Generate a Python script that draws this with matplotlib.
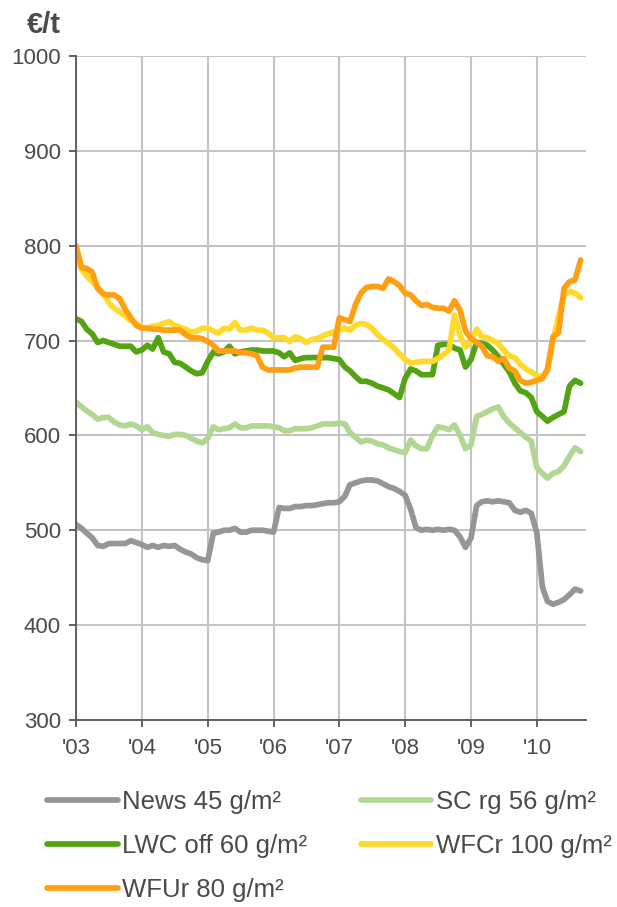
import matplotlib
matplotlib.use("Agg")
import matplotlib.pyplot as plt
import pandas as pd

# monthly paper prices, Jan 2003 .. Sep 2010 (EUR/t)
months = pd.date_range("2003-01-01", periods=93, freq="MS")

news = [506, 502, 497, 492, 484, 483, 486, 486, 486, 486, 489, 487,
        485, 482, 484, 482, 484, 483, 484, 480, 477, 475, 471, 469,
        468, 497, 498, 500, 500, 502, 498, 498, 500, 500, 500, 499,
        498, 524, 523, 523, 525, 525, 526, 526, 527, 528, 529, 529,
        530, 536, 548, 550, 552, 553, 553, 552, 549, 546, 544, 541,
        537, 522, 503, 500, 501, 500, 501, 500, 501, 500, 493, 482,
        492, 526, 530, 531, 530, 531, 530, 529, 521, 519, 521, 518,
        497, 440, 425, 422, 424, 427, 432, 438, 436]

sc = [635, 630, 626, 622, 617, 619, 619, 614, 611, 610, 612, 610,
      606, 609, 603, 601, 600, 599, 601, 601, 600, 597, 594, 592,
      597, 609, 606, 607, 608, 612, 608, 608, 610, 610, 610, 610,
      609, 608, 605, 605, 607, 607, 607, 608, 610, 612, 612, 612,
      613, 612, 603, 598, 593, 595, 594, 591, 590, 587, 585, 583,
      582, 595, 589, 586, 586, 600, 609, 608, 606, 611, 600, 586,
      590, 620, 622, 625, 628, 630, 620, 613, 608, 603, 598, 594,
      566, 560, 555, 560, 562, 568, 578, 587, 583]

lwc = [723, 720, 712, 707, 698, 700, 698, 696, 694, 694, 694, 688,
       690, 695, 691, 703, 688, 686, 677, 676, 672, 668, 665, 666,
       678, 688, 686, 688, 694, 686, 688, 689, 690, 690, 689, 689,
       689, 687, 683, 687, 679, 681, 682, 682, 682, 682, 682, 681,
       680, 672, 668, 662, 657, 657, 655, 652, 650, 648, 644, 640,
       660, 670, 668, 664, 664, 664, 695, 696, 696, 692, 690, 672,
       680, 698, 697, 695, 690, 683, 675, 667, 655, 647, 645, 640,
       625, 620, 615, 619, 622, 625, 652, 658, 655]

wfcr = [788, 775, 768, 762, 756, 750, 740, 734, 730, 726, 721, 718,
        714, 713, 715, 716, 718, 720, 716, 714, 712, 709, 710, 713,
        713, 710, 708, 713, 712, 719, 711, 711, 713, 711, 711, 708,
        703, 703, 703, 699, 704, 702, 698, 701, 702, 705, 707, 709,
        711, 713, 711, 716, 718, 717, 713, 706, 701, 697, 692, 686,
        680, 676, 677, 678, 678, 678, 681, 685, 690, 727, 705, 693,
        700, 712, 704, 703, 700, 697, 690, 684, 682, 675, 670, 667,
        663, 662, 668, 700, 725, 748, 752, 750, 745]

wfur = [800, 777, 776, 772, 755, 749, 748, 748, 744, 733, 724, 716,
        713, 713, 712, 712, 711, 711, 711, 711, 706, 703, 703, 702,
        699, 695, 689, 689, 689, 689, 687, 687, 686, 684, 672, 669,
        669, 669, 669, 669, 671, 672, 672, 672, 672, 693, 693, 693,
        724, 722, 720, 738, 750, 756, 757, 757, 755, 765, 762, 758,
        750, 748, 742, 737, 738, 735, 734, 734, 731, 742, 732, 710,
        702, 698, 694, 684, 683, 678, 681, 671, 668, 658, 655, 656,
        658, 660, 670, 704, 708, 755, 762, 764, 785]

series = [
    ("News 45 g/m²", news, "#969696"),
    ("SC rg 56 g/m²", sc, "#b2d793"),
    ("LWC off 60 g/m²", lwc, "#54a312"),
    ("WFCr 100 g/m²", wfcr, "#ffda2b"),
    ("WFUr 80 g/m²", wfur, "#ffa012"),
]
year_labels = ["'03", "'04", "'05", "'06", "'07", "'08", "'09", "'10"]

txt = "#4a4a4a"
plt.rcParams["font.family"] = ["Liberation Sans", "DejaVu Sans"]

fig = plt.figure(figsize=(6.17, 9.07), dpi=100)
ax = fig.add_axes([0.1232, 0.2062, 0.8266, 0.7321])

lines = {}
for name, vals, col in series:
    ln, = ax.plot(months, vals, color=col, lw=4.1,
                  solid_joinstyle="round", solid_capstyle="round", zorder=3)
    lines[name] = ln

ax.set_ylim(300, 1000)
ax.set_yticks(range(300, 1001, 100))
ax.set_xlim(pd.Timestamp("2003-01-01"), pd.Timestamp("2010-10-01"))
year_ticks = pd.date_range("2003-01-01", periods=8, freq="YS")
ax.set_xticks(year_ticks)
ax.set_xticklabels(year_labels)

ax.grid(True, color="#c4c4c4", lw=1.5, zorder=0)
for s in ["top", "right"]:
    ax.spines[s].set_visible(False)
for s in ["left", "bottom"]:
    ax.spines[s].set_color("#555555")
    ax.spines[s].set_linewidth(1.3)
    ax.spines[s].set_zorder(4)
ax.tick_params(axis="both", colors="#555555", labelcolor=txt,
               labelsize=16, length=5, width=1.3)
ax.tick_params(axis="y", pad=6)
ax.tick_params(axis="x", pad=8)

fig.text(0.044, 0.972, "€/t", fontsize=21, fontweight="bold", color=txt,
         va="center", ha="left")

# legend: two columns, filled column-wise
order = ["News 45 g/m²", "LWC off 60 g/m²", "WFUr 80 g/m²",
         "SC rg 56 g/m²", "WFCr 100 g/m²"]
leg = fig.legend([lines[n] for n in order], order, ncol=2,
                 loc="upper left", bbox_to_anchor=(0.076, 0.129),
                 frameon=False, fontsize=18.5, handlelength=2.75,
                 handletextpad=0.16, columnspacing=2.1, labelspacing=0.78,
                 borderpad=0, borderaxespad=0)
for t in leg.get_texts():
    t.set_color(txt)

fig.savefig("out.png", dpi=100)
